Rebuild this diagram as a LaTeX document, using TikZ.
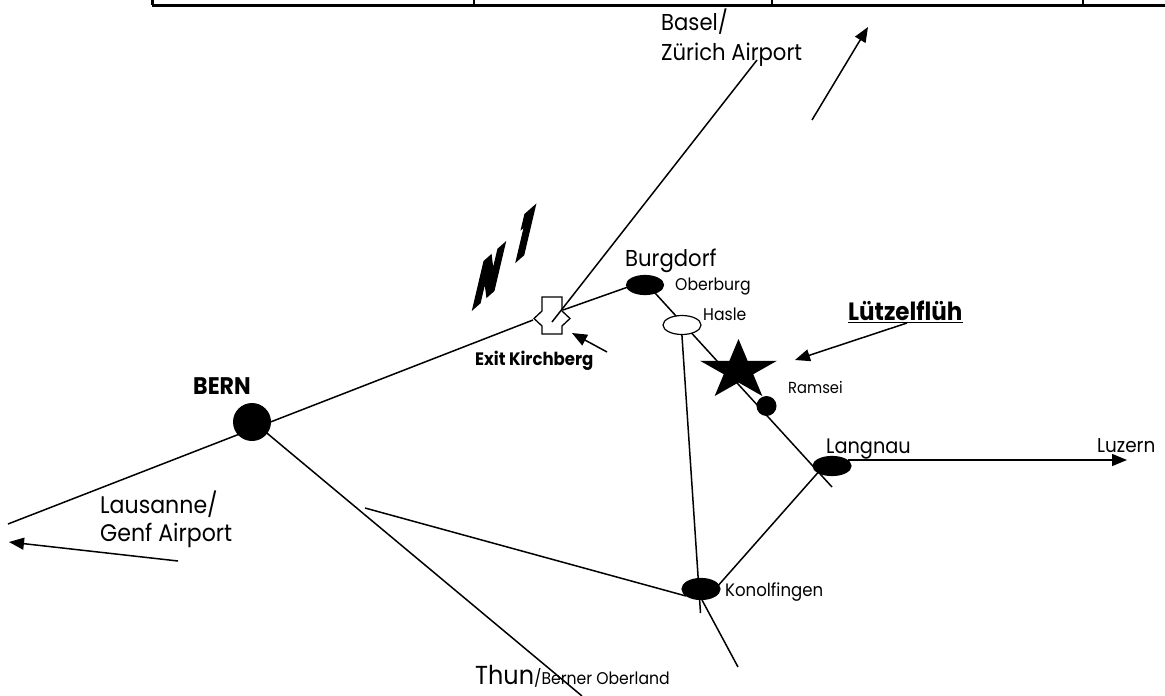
\documentclass[tikz,border=0pt]{standalone}
\usepackage{fontspec}
\setmainfont{Poppins}[FakeStretch=0.92]
\newfontfamily\nfnt{Poppins}[FakeStretch=0.92,FakeBold=11,BoldFeatures={FakeBold=11}]
\usetikzlibrary{arrows.meta,shapes.geometric}
\begin{document}
\begin{tikzpicture}[x=1pt,y=-1pt,
  road/.style={line width=1.5pt},
  arr/.style={line width=1.5pt,-{Triangle[length=15pt,width=12pt]}},
  town/.style={ellipse,draw=black,fill=black,line width=1.2pt,minimum width=38pt,minimum height=20pt,inner sep=0pt},
  big/.style={font=\fontsize{23}{26}\selectfont,inner sep=0pt,anchor=base west},
  small/.style={font=\fontsize{17}{20}\selectfont,inner sep=0pt,anchor=base west},
  boldlbl/.style={font=\bfseries\fontsize{24}{28}\selectfont,inner sep=0pt,anchor=base west},
  nfont/.style={font=\nfnt\bfseries\fontsize{22}{24}\selectfont,inner sep=0pt,transform shape,cm={1.5,1.32,0.66,2.8,(0,0)}}]
\useasboundingbox (0,0) rectangle (1165,696);

% top table rule
\coordinate (tl) at (152,5.5);
\coordinate (tr) at (1165,5.5);
\draw[line width=2.6pt] (tl) -- (tr);
\foreach \x/\w in {152/3pt,474/1.2pt,772/1.2pt,1083/1.2pt}{
  \coordinate (tt\x) at (\x,0);
  \coordinate (tb\x) at (\x,5);
  \draw[line width=\w] (tt\x) -- (tb\x);
}

% coordinates
\coordinate (west) at (8,524);
\coordinate (exL) at (533,320);
\coordinate (exR) at (563,310);
\coordinate (exC) at (552,322);
\coordinate (zurich) at (757,60);
\coordinate (bgA) at (645,282);
\coordinate (lgB) at (832,487);
\coordinate (hsB) at (681.7,331.7);
\coordinate (knV) at (700.5,613);
\coordinate (kw) at (365,508);
\coordinate (kwE) at (686,596);
\coordinate (knS) at (702,600);
\coordinate (knSE) at (738,667);
\coordinate (knNE) at (716,588);
\coordinate (lgSW) at (822,468);
\coordinate (beSE) at (262,429);
\coordinate (thun) at (582,696);
\coordinate (bgW) at (628,287);

% roads
\draw[road] (west) -- (exL);
\draw[road] (exR) -- (bgW);
\draw[road] (exC) -- (zurich);
\draw[road] (bgA) -- (lgB);
\draw[road] (hsB) -- (knV);
\draw[road] (kw) -- (kwE);
\draw[road] (knS) -- (knSE);
\draw[road] (knNE) -- (lgSW);
\draw[road] (beSE) -- (thun);

% towns
\node[circle,fill=black,minimum size=38pt,inner sep=0pt] (bern) at (252,422) {};
\node[town,minimum height=19pt,minimum width=37pt] (burgdorf) at (645,285) {};
\node[town,fill=white,minimum height=19pt] (hasle) at (682,325) {};
\node[town,minimum height=21pt] (konol) at (701,589) {};
\node[town,minimum height=19pt] (langnau) at (832,466) {};

% star (Lützelflüh)
\coordinate (star) at (738.5,370.5);
\fill (star) +(-90:40.5 and 31.5) -- +(-54:15.5 and 12) -- +(-18:40.5 and 31.5)
  -- +(18:15.5 and 12) -- +(54:40.5 and 31.5) -- +(90:15.5 and 12)
  -- +(126:40.5 and 31.5) -- +(162:15.5 and 12) -- +(198:40.5 and 31.5)
  -- +(234:15.5 and 12) -- cycle;
\node[circle,fill=black,minimum size=20pt,inner sep=0pt] (ramsei) at (766.5,406) {};

% exit symbol
\coordinate (exit) at (552,315);
\draw[line width=1.3pt] (542,297) -- (562,297) -- (562,311) -- (570,318.5) -- (562,326) -- (562,334)
  -- (542,334) -- (542,326) -- (534,318.5) -- (542,311) -- cycle;

% arrows
\coordinate (baselT) at (812,120);
\coordinate (baselH) at (868,27);
\draw[arr] (baselT) -- (baselH);
\coordinate (lausT) at (178,561);
\coordinate (lausH) at (9,542);
\draw[arr] (lausT) -- (lausH);
\coordinate (exitT) at (607,352);
\coordinate (exitH) at (572,333);
\draw[arr] (exitT) -- (exitH);
\coordinate (luetT) at (907,323);
\coordinate (luetH) at (795,360);
\draw[arr] (luetT) -- (luetH);
\coordinate (luzT) at (848,460);
\coordinate (luzH) at (1127,460);
\draw[arr] (luzT) -- (luzH);

% labels
\node[big] (tBasel) at (661,30.7) {Basel/};
\node[big] (tZurich) at (661,60) {Zürich Airport};
\node[big,font=\fontsize{24}{26}\selectfont] (tLaus) at (100,513.3) {Lausanne/};
\node[big,font=\fontsize{24}{26}\selectfont] (tGenf) at (100,541.7) {Genf Airport};
\node[boldlbl] (tBern) at (193,394) {BERN};
\node[boldlbl,font=\bfseries\fontsize{18}{20}\selectfont] (tExit) at (475,365.7) {Exit Kirchberg};
\node[big] (tBurg) at (625,266.7) {Burgdorf};
\node[small] (tOber) at (675,290.7) {Oberburg};
\node[small] (tHasle) at (703,320) {Hasle};
\node[boldlbl,font=\bfseries\fontsize{25}{28}\selectfont] (tLuet) at (848,320) {Lützelflüh};
\draw[line width=1.6pt] (tLuet.base west) ++(0,2.5) coordinate (ulA) -- (ulA -| tLuet.east) coordinate (ulB);
\node[small,font=\fontsize{16}{18}\selectfont] (tRamsei) at (788,393.3) {Ramsei};
\node[big,font=\fontsize{21}{24}\selectfont] (tLang) at (826,453.3) {Langnau};
\node[big,font=\fontsize{20}{24}\selectfont] (tLuz) at (1097,452) {Luzern};
\node[small,font=\fontsize{18}{21}\selectfont] (tKonol) at (725,596.7) {Konolfingen};
\node[inner sep=0pt,anchor=base west] (tThun) at (475,684) {{\fontsize{26}{28}\selectfont Thun}{\fontsize{17}{19}\selectfont/Berner Oberland}};

% N 1
\begin{scope}[shift={(489,276)}]
\node[nfont] (tN) at (0,0) {N};
\end{scope}
\begin{scope}[shift={(525,234)}]
\node[nfont] (tOne) at (0,0) {1};
\end{scope}
\end{tikzpicture}
\end{document}
